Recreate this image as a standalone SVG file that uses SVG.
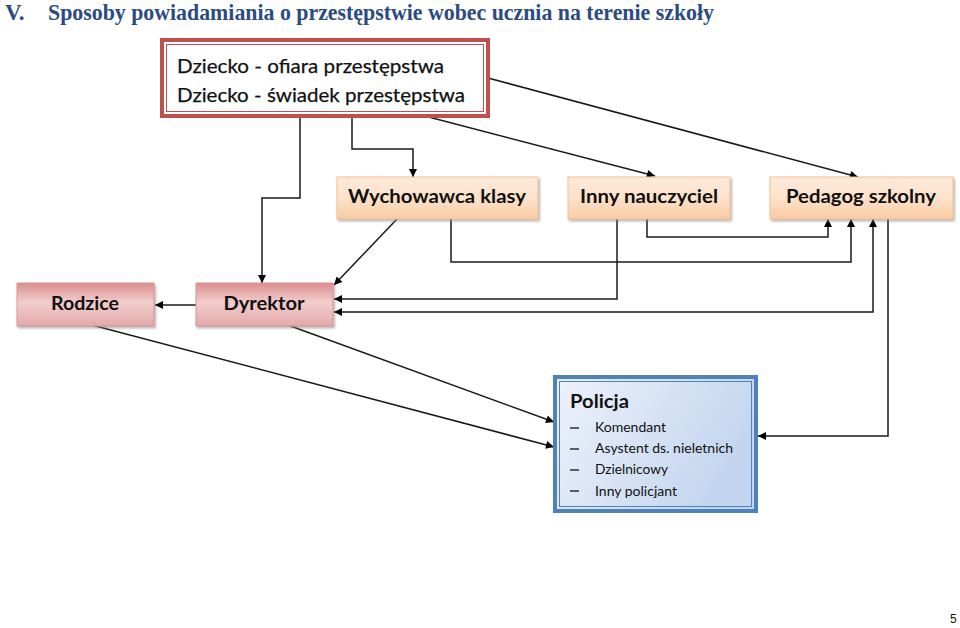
<svg xmlns="http://www.w3.org/2000/svg" width="960" height="628" viewBox="0 0 960 628">
  <style>
    .title { font-family: "Liberation Serif", "Times New Roman", serif; font-weight: bold; font-size: 23px; fill: #2b4b82; }
    .lbl { font-family: "Lato", "Liberation Sans", sans-serif; font-weight: bold; font-size: 19px; fill: #111; }
    .top { font-family: "Lato", "Liberation Sans", sans-serif; font-weight: normal; font-size: 19px; fill: #111; stroke: #111; stroke-width: 0.25; }
    .item { font-family: "Lato", "Liberation Sans", sans-serif; font-size: 14px; fill: #111; }
    .conn { fill: none; stroke: #1a1a1a; stroke-width: 1.5; }
    .orange { fill: url(#gOrange); stroke: #f2bf95; stroke-width: 1; filter: url(#shadow); }
    .pink { fill: url(#gPink); stroke: #d99594; stroke-width: 1; filter: url(#shadow); }
  </style>
  <defs>
    <linearGradient id="gOrange" x1="0" y1="0" x2="0" y2="1">
      <stop offset="0" stop-color="#fde9d9"/>
      <stop offset="0.5" stop-color="#fde2cc"/>
      <stop offset="1" stop-color="#fbcba2"/>
    </linearGradient>
    <linearGradient id="gPink" x1="0" y1="0" x2="0" y2="1">
      <stop offset="0" stop-color="#da8e8d"/>
      <stop offset="0.45" stop-color="#f2cdcd"/>
      <stop offset="1" stop-color="#e3a9a9"/>
    </linearGradient>
    <linearGradient id="gBlue" x1="0" y1="0" x2="1" y2="0.4">
      <stop offset="0" stop-color="#edf2fa"/>
      <stop offset="1" stop-color="#c3d5ef"/>
    </linearGradient>
    <filter id="shadow" x="-10%" y="-20%" width="130%" height="160%">
      <feDropShadow dx="1.5" dy="2" stdDeviation="1" flood-color="#808080" flood-opacity="0.55"/>
    </filter>
    <marker id="arr" viewBox="0 0 10 10" refX="10" refY="5" markerWidth="9" markerHeight="8" markerUnits="userSpaceOnUse" orient="auto-start-reverse">
      <path d="M0,0 L10,5 L0,10 z" fill="#000"/>
    </marker>
  </defs>

  <text class="title" x="5" y="20">V.</text>
  <text class="title" x="48" y="20" textLength="666" lengthAdjust="spacingAndGlyphs">Sposoby powiadamiania o przestępstwie wobec ucznia na terenie szkoły</text>

  <g id="connectors">
    <path class="conn" d="M300,118 V198 H262 V283" marker-end="url(#arr)"/>
    <path class="conn" d="M352,118 V149 H413 V177" marker-end="url(#arr)"/>
    <path class="conn" d="M421,115 L655,176" marker-end="url(#arr)"/>
    <path class="conn" d="M488,78 L858,177" marker-end="url(#arr)"/>
    <path class="conn" d="M397,219 L334,285" marker-end="url(#arr)"/>
    <path class="conn" d="M451,219 V262 H851 V219" marker-end="url(#arr)"/>
    <path class="conn" d="M617,219 V299 H334" marker-end="url(#arr)"/>
    <path class="conn" d="M647,219 V237 H828 V219" marker-end="url(#arr)"/>
    <path class="conn" d="M334,312 H873 V219" marker-start="url(#arr)" marker-end="url(#arr)"/>
    <path class="conn" d="M888,219 V436 H758" marker-end="url(#arr)"/>
    <path class="conn" d="M196,305 H155" marker-end="url(#arr)"/>
    <path class="conn" d="M88,324 L554,447" marker-end="url(#arr)"/>
    <path class="conn" d="M285,324 L554,422" marker-end="url(#arr)"/>
  </g>

  <g id="dziecko">
    <rect x="162" y="40" width="326" height="76" fill="#fff" stroke="#c0504d" stroke-width="4"/>
    <rect x="166.5" y="44.5" width="317" height="67" fill="none" stroke="#c0504d" stroke-width="1"/>
    <text class="top" x="177" y="73" textLength="267" lengthAdjust="spacingAndGlyphs">Dziecko - ofiara przestępstwa</text>
    <text class="top" x="177" y="102" textLength="288" lengthAdjust="spacingAndGlyphs">Dziecko - świadek przestępstwa</text>
  </g>

  <g id="wychowawca">
    <rect class="orange" x="337" y="177" width="201" height="42"/>
    <text class="lbl" x="437" y="203" text-anchor="middle" textLength="178" lengthAdjust="spacingAndGlyphs">Wychowawca klasy</text>
  </g>
  <g id="inny">
    <rect class="orange" x="568" y="177" width="162" height="42"/>
    <text class="lbl" x="649" y="203" text-anchor="middle" textLength="138" lengthAdjust="spacingAndGlyphs">Inny nauczyciel</text>
  </g>
  <g id="pedagog">
    <rect class="orange" x="770" y="177" width="183" height="42"/>
    <text class="lbl" x="861" y="203" text-anchor="middle" textLength="150" lengthAdjust="spacingAndGlyphs">Pedagog szkolny</text>
  </g>

  <g id="rodzice">
    <rect class="pink" x="17" y="283" width="137" height="43"/>
    <text class="lbl" x="85" y="310" text-anchor="middle" textLength="68" lengthAdjust="spacingAndGlyphs">Rodzice</text>
  </g>
  <g id="dyrektor">
    <rect class="pink" x="196" y="283" width="137" height="43"/>
    <text class="lbl" x="264" y="310" text-anchor="middle" textLength="81" lengthAdjust="spacingAndGlyphs">Dyrektor</text>
  </g>

  <g id="policja">
    <rect x="555" y="377" width="201" height="134" fill="url(#gBlue)" stroke="#4f81bd" stroke-width="4"/>
    <rect x="559.5" y="381.5" width="192" height="125" fill="none" stroke="#4f81bd" stroke-width="1"/>
    <text class="lbl" x="570" y="408" font-size="20" textLength="59" lengthAdjust="spacingAndGlyphs">Policja</text>
    <g stroke="#111" stroke-width="1.3">
      <line x1="570" y1="428" x2="579" y2="428"/>
      <line x1="570" y1="449" x2="579" y2="449"/>
      <line x1="570" y1="470" x2="579" y2="470"/>
      <line x1="570" y1="491" x2="579" y2="491"/>
    </g>
    <text class="item" x="595" y="432" textLength="71" lengthAdjust="spacingAndGlyphs">Komendant</text>
    <text class="item" x="595" y="453" textLength="138" lengthAdjust="spacingAndGlyphs">Asystent ds. nieletnich</text>
    <text class="item" x="595" y="474" textLength="73" lengthAdjust="spacingAndGlyphs">Dzielnicowy</text>
    <text class="item" x="595" y="496" textLength="82" lengthAdjust="spacingAndGlyphs">Inny policjant</text>
  </g>

  <text x="950" y="623" font-family="Liberation Sans, Arial, sans-serif" font-size="12" fill="#111">5</text>
</svg>
